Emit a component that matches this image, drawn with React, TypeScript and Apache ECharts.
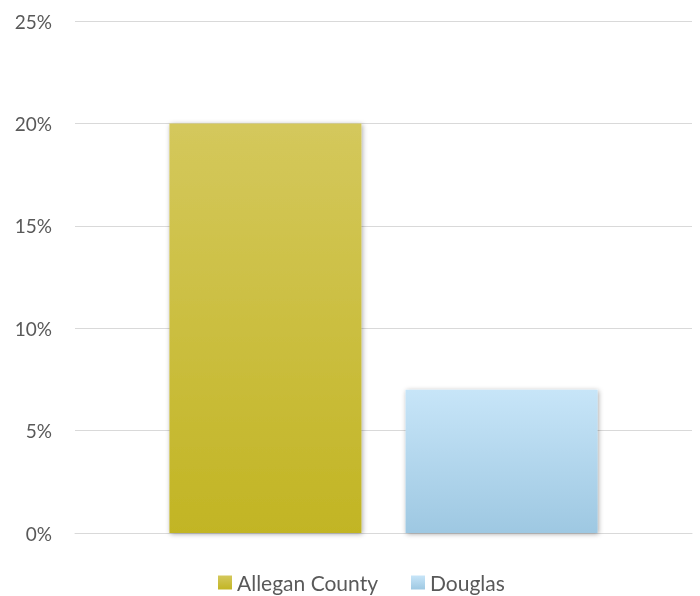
import React, { useEffect, useRef } from "react";
import * as echarts from "echarts";

const categories: string[] = ["Share"];
const seriesNames: string[] = ["Allegan County", "Douglas"];
const alleganValues: number[] = [20];
const douglasValues: number[] = [7];
const yTicks = { min: 0, max: 25, interval: 5 };

const grad = (top: string, bottom: string) =>
  new echarts.graphic.LinearGradient(0, 0, 0, 1, [
    { offset: 0, color: top },
    { offset: 1, color: bottom },
  ]);

export default function App() {
  const ref = useRef<HTMLDivElement>(null);
  useEffect(() => {
    if (!ref.current) return;
    const chart = echarts.init(ref.current, null, { renderer: "svg" });
    const shadow = {
      shadowBlur: 5,
      shadowColor: "rgba(0,0,0,0.35)",
      shadowOffsetX: 1,
      shadowOffsetY: 1,
    };
    chart.setOption({
      animation: false,
      textStyle: { fontFamily: "Lato, 'Open Sans', sans-serif" },
      grid: { left: 75, right: 8, top: 21, bottom: 63 },
      legend: {
        top: 572,
        left: 218,
        padding: 0,
        itemWidth: 14,
        itemHeight: 14,
        itemGap: 33,
        icon: "rect",
        textStyle: { fontSize: 21, color: "#595959", fontFamily: "Lato, sans-serif", lineHeight: 21 },
        data: seriesNames,
      },
      xAxis: {
        type: "category",
        data: categories,
        axisLine: { show: true, lineStyle: { color: "#D9D9D9", width: 1 } },
        axisTick: { show: false },
        axisLabel: { show: false },
      },
      yAxis: {
        type: "value",
        min: yTicks.min,
        max: yTicks.max,
        interval: yTicks.interval,
        axisLine: { show: false },
        axisTick: { show: false },
        axisLabel: {
          formatter: "{value}%",
          fontSize: 19,
          color: "#595959",
          margin: 23,
          fontFamily: "Lato, sans-serif",
        },
        splitLine: { lineStyle: { color: "#D9D9D9", width: 1 } },
      },
      series: [
        {
          name: seriesNames[0],
          type: "bar",
          data: alleganValues,
          barWidth: 192,
          barGap: "23%",
          itemStyle: { color: grad("#D4C85C", "#C2B524"), ...shadow },
        },
        {
          name: seriesNames[1],
          type: "bar",
          data: douglasValues,
          barWidth: 192,
          itemStyle: { color: grad("#C7E5F8", "#9EC8E2"), ...shadow },
        },
      ],
    });
    return () => chart.dispose();
  }, []);
  return (
    <div
      ref={ref}
      style={{ position: "fixed", left: 0, top: 0, width: 700, height: 596 }}
    />
  );
}
